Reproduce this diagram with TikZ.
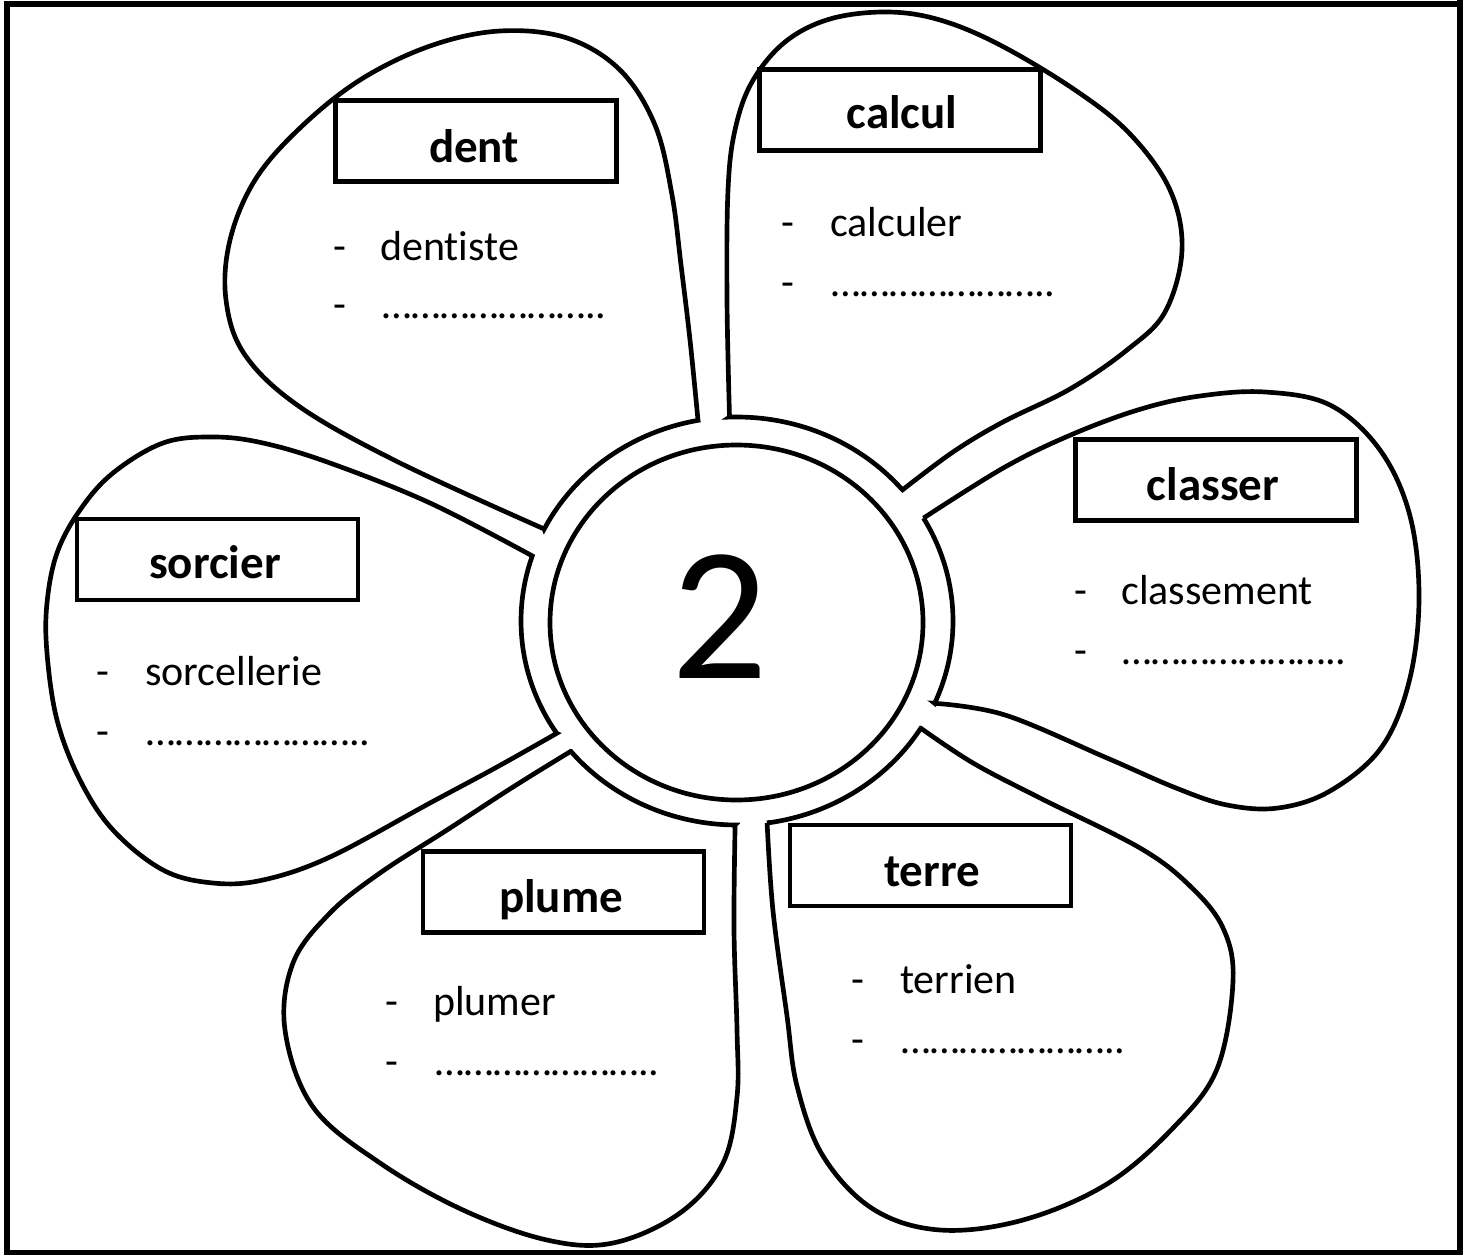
\documentclass[tikz,border=0pt]{standalone}
\usepackage{fontspec}
\setmainfont{Carlito}[Ligatures={NoCommon}]
\newcommand\blankdots{\char"2026\char"2026\char"2026\char"2026\char"2026\char"2026\char"2026..}
\begin{document}
\begin{tikzpicture}[x=0.75pt,y=-0.75pt,
  petal/.style={draw=black, line width=3.5pt, fill=white},
  labelbox/.style={draw=black, line width=3.5pt, fill=white, minimum width=210.75pt, minimum height=60.75pt, inner sep=0pt},
  labeltext/.style={font=\fontsize{35.25}{40}\selectfont\bfseries, anchor=base, inner sep=0pt},
  itemtext/.style={font=\fontsize{31.5}{36}\selectfont, anchor=base west, inner sep=0pt},
  ringarc/.style={domain=#1, samples=30, variable=\t, smooth},
]
\useasboundingbox (0,0) rectangle (1469,1255);
% frame
\draw[line width=4.5pt] (7,4.5) rectangle (1460,1253);
\draw[line width=4.5pt] (1460,0) -- (1460,10);

% petal: dent
\draw[petal] plot[ringarc=206.8:259.6] ({737+216*cos(\t)},{621+204*sin(\t)})
  -- plot[smooth, tension=0.6] coordinates {(698,420.3) (690,340) (681,265) (672,195) (655,125) (620,70) (567,38) (500,31) (430,46) (360,80) (300,128) (255,180) (230,240) (226,300) (245,355) (300,407) (400,463) (544.2,529)} -- cycle;
% petal: calcul
\draw[petal] plot[ringarc=268:320] ({737+216*cos(\t)},{621+204*sin(\t)})
  -- plot[smooth, tension=0.6] coordinates {(902.5,489.9) (953,452) (1003,422) (1070,389) (1127,350) (1165,312) (1182,250) (1170,190) (1130,134) (1075,90) (1000,45) (940,20) (887,12) (830,19) (785,42) (752,82) (735,130) (728,190) (727,300) (729.5,417.1)} -- cycle;
% petal: classer
\draw[petal] plot[ringarc=-30.3:23.8] ({737+216*cos(\t)},{621+204*sin(\t)})
  -- plot[smooth, tension=0.6] coordinates {(934.6,703.3) (1005,715) (1107,758) (1176,788) (1227,805) (1278,808) (1330,791) (1381,748) (1409,682) (1419,599) (1410,516) (1380,450) (1330,405) (1265,392) (1200,396) (1141,409) (1073,434) (1005,467) (923.5,518.1)} -- cycle;
% petal: terre
\draw[petal] plot[ringarc=31.7:82] ({737+216*cos(\t)},{621+204*sin(\t)})
  -- plot[smooth, tension=0.6] coordinates {(767.1,823) (773,911) (787,1016) (797,1086) (823,1156) (873,1209) (940,1230) (1023,1220) (1107,1184) (1173,1128) (1217,1069) (1233,981) (1223,928) (1190,886) (1140,848) (1040,798) (973,763) (920.8,728.2)} -- cycle;
% petal: plume
\draw[petal] plot[ringarc=90.5:140.3] ({737+216*cos(\t)},{621+204*sin(\t)})
  -- plot[smooth, tension=0.6] coordinates {(570.8,751.3) (513,787) (447,830) (380,873) (330,913) (293,963) (285,1030) (313,1107) (380,1163) (463,1210) (547,1240) (613,1243) (680,1213) (723,1163) (737,1097) (737,1030) (734,930) (735.1,825)} -- cycle;
% petal: sorcier
\draw[petal] plot[ringarc=146.6:198.6] ({737+216*cos(\t)},{621+204*sin(\t)})
  -- plot[smooth, tension=0.6] coordinates {(532.3,555.9) (430,503) (330,463) (263,443) (213,437) (163,443) (113,473) (80,510) (57,553) (47,603) (47,653) (57,720) (80,780) (113,830) (163,870) (213,883) (263,880) (330,857) (430,803) (497,767) (556.7,733.3)} -- cycle;

% heart of the flower
\draw[line width=3.5pt] (736.5,622.5) ellipse [x radius=186.5, y radius=177.5];
\node[font=\fontsize{143}{160}\selectfont, anchor=base, inner sep=0pt] (two) at (720,678) {2};

% label boxes
\node[labelbox] (dentbox) at (476,141) {};
\node[labeltext] (dentlab) at (474,163) {dent};
\node[labelbox] (calculbox) at (900,110) {};
\node[labeltext] (calcullab) at (902,129) {calcul};
\node[labelbox] (classerbox) at (1216,480) {};
\node[labeltext] (classerlab) at (1213,500) {classer};
\node[labelbox] (sorcierbox) at (217.5,559.5) {};
\node[labeltext] (sorcierlab) at (215,578) {sorcier};
\node[labelbox] (plumebox) at (563.5,892) {};
\node[labeltext] (plumelab) at (561,912) {plume};
\node[labelbox] (terrebox) at (930.5,865.5) {};
\node[labeltext] (terrelab) at (932,886) {terre};

% word lists
\node[itemtext] (dentd1) at (333,260) {-};
\node[itemtext] (dentw1) at (380,260) {dentiste};
\node[itemtext] (dentd2) at (333,318) {-};
\node[itemtext] (dentw2) at (382,318) {\blankdots};

\node[itemtext] (calculd1) at (781,237) {-};
\node[itemtext] (calculw1) at (830,237) {calculer};
\node[itemtext] (calculd2) at (781,296) {-};
\node[itemtext] (calculw2) at (831,296) {\blankdots};

\node[itemtext] (classerd1) at (1074,604) {-};
\node[itemtext] (classerw1) at (1121,604) {classement};
\node[itemtext] (classerd2) at (1074,664) {-};
\node[itemtext] (classerw2) at (1122,664) {\blankdots};

\node[itemtext] (terred1) at (851,993) {-};
\node[itemtext] (terrew1) at (900,993) {terrien};
\node[itemtext] (terred2) at (851,1053) {-};
\node[itemtext] (terrew2) at (901,1053) {\blankdots};

\node[itemtext] (plumed1) at (385,1015) {-};
\node[itemtext] (plumew1) at (433,1015) {plumer};
\node[itemtext] (plumed2) at (385,1075) {-};
\node[itemtext] (plumew2) at (435,1075) {\blankdots};

\node[itemtext] (sorcierd1) at (96,685) {-};
\node[itemtext] (sorcierw1) at (145,685) {sorcellerie};
\node[itemtext] (sorcierd2) at (96,745) {-};
\node[itemtext] (sorcierw2) at (146,745) {\blankdots};
\end{tikzpicture}
\end{document}
